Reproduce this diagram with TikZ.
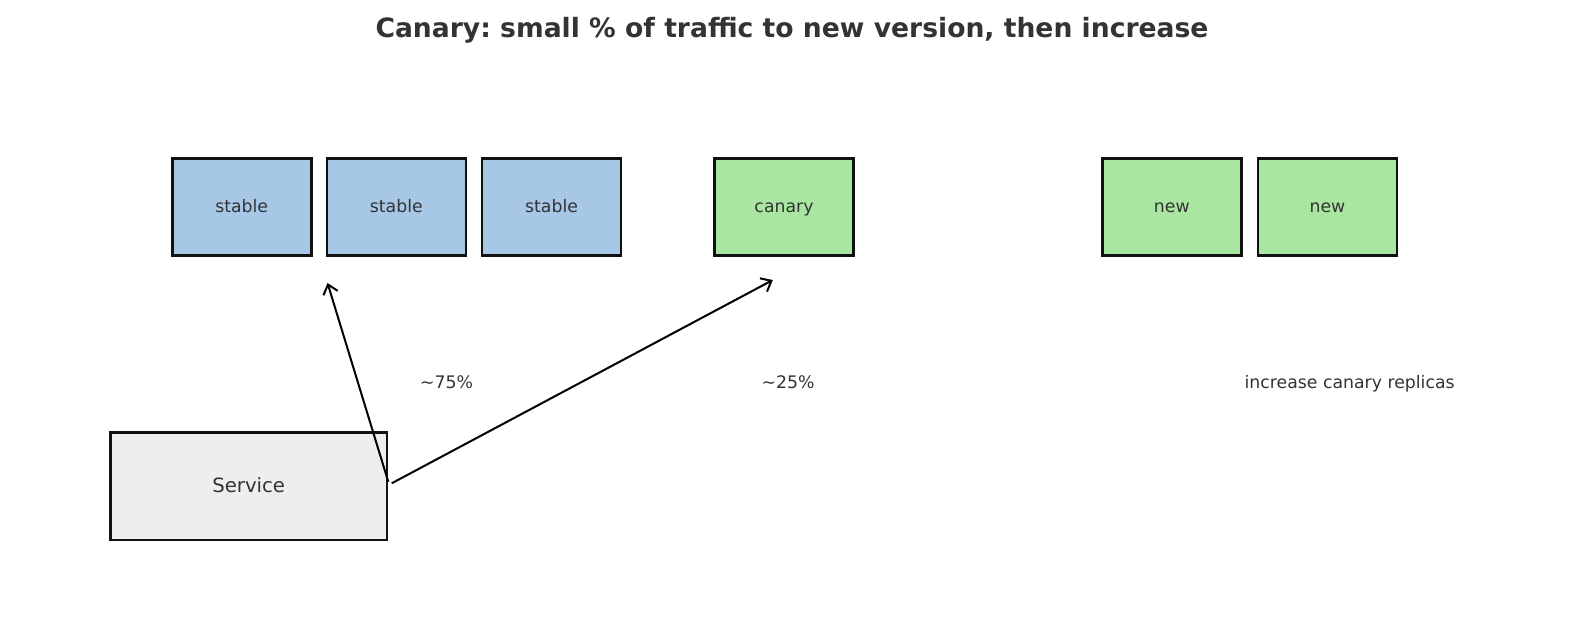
\documentclass[tikz,border=0pt]{standalone}
\usepackage{fontspec}
\setmainfont{DejaVu Sans}
\usetikzlibrary{arrows.meta}
\frenchspacing
\definecolor{txt}{HTML}{333333}
\definecolor{edge}{HTML}{111111}
\definecolor{stablefill}{HTML}{A7C7E7}
\definecolor{newfill}{HTML}{A8E6A1}
\definecolor{svcfill}{HTML}{EEEEEE}
\tikzset{
  pod/.style={draw=edge, line width=2.6pt, minimum width=139pt, minimum height=97pt, inner sep=0pt, text=txt, text height=14pt, text depth=3pt, font=\fontsize{17.3}{20}\selectfont},
  stablebox/.style={pod, fill=stablefill},
  greenbox/.style={pod, fill=newfill},
  svcbox/.style={draw=edge, line width=2.6pt, fill=svcfill, minimum width=276.6pt, minimum height=107.5pt, inner sep=0pt, text=txt, text height=15pt, text depth=3pt, font=\fontsize{19.7}{22}\selectfont},
  lbl/.style={text=txt, inner sep=0pt, text height=14pt, text depth=3pt, font=\fontsize{17.3}{20}\selectfont},
  flow/.style={draw=black, line width=2pt, -{Straight Barb[length=9pt, width=15pt, line width=2pt]}}
}
\begin{document}
\begin{tikzpicture}[x=1pt,y=-1pt]
\useasboundingbox (0,0) rectangle (1584,623);
\node[text=txt, font=\fontsize{26.6}{30}\selectfont\bfseries] (title) at (792,30) {Canary: small \% of traffic to new version, then increase};
\node[stablebox] (s1) at (241.7,206.7) {stable};
\node[stablebox] (s2) at (396.3,206.7) {stable};
\node[stablebox] (s3) at (551.6,206.7) {stable};
\node[greenbox] (can) at (784,206.7) {canary};
\node[greenbox] (n1) at (1171.8,206.7) {new};
\node[greenbox] (n2) at (1327.4,206.7) {new};
\node[svcbox] (svc) at (248.7,486.3) {Service};
\node[lbl] (p75) at (446.5,382.9) {\char`\~75\%};
\node[lbl] (p25) at (788,382.9) {\char`\~25\%};
\node[lbl] (inc) at (1349.6,382.9) {increase canary replicas};
\coordinate (t1) at (327.5,283);
\coordinate (t2) at (772.8,280);
\coordinate (o1) at ([xshift=0pt,yshift=4.5pt]svc.east);
\coordinate (o2) at ([xshift=3.4pt,yshift=3pt]svc.east);
\draw[flow] (o1) -- (t1);
\draw[flow] (o2) -- (t2);
\end{tikzpicture}
\end{document}
